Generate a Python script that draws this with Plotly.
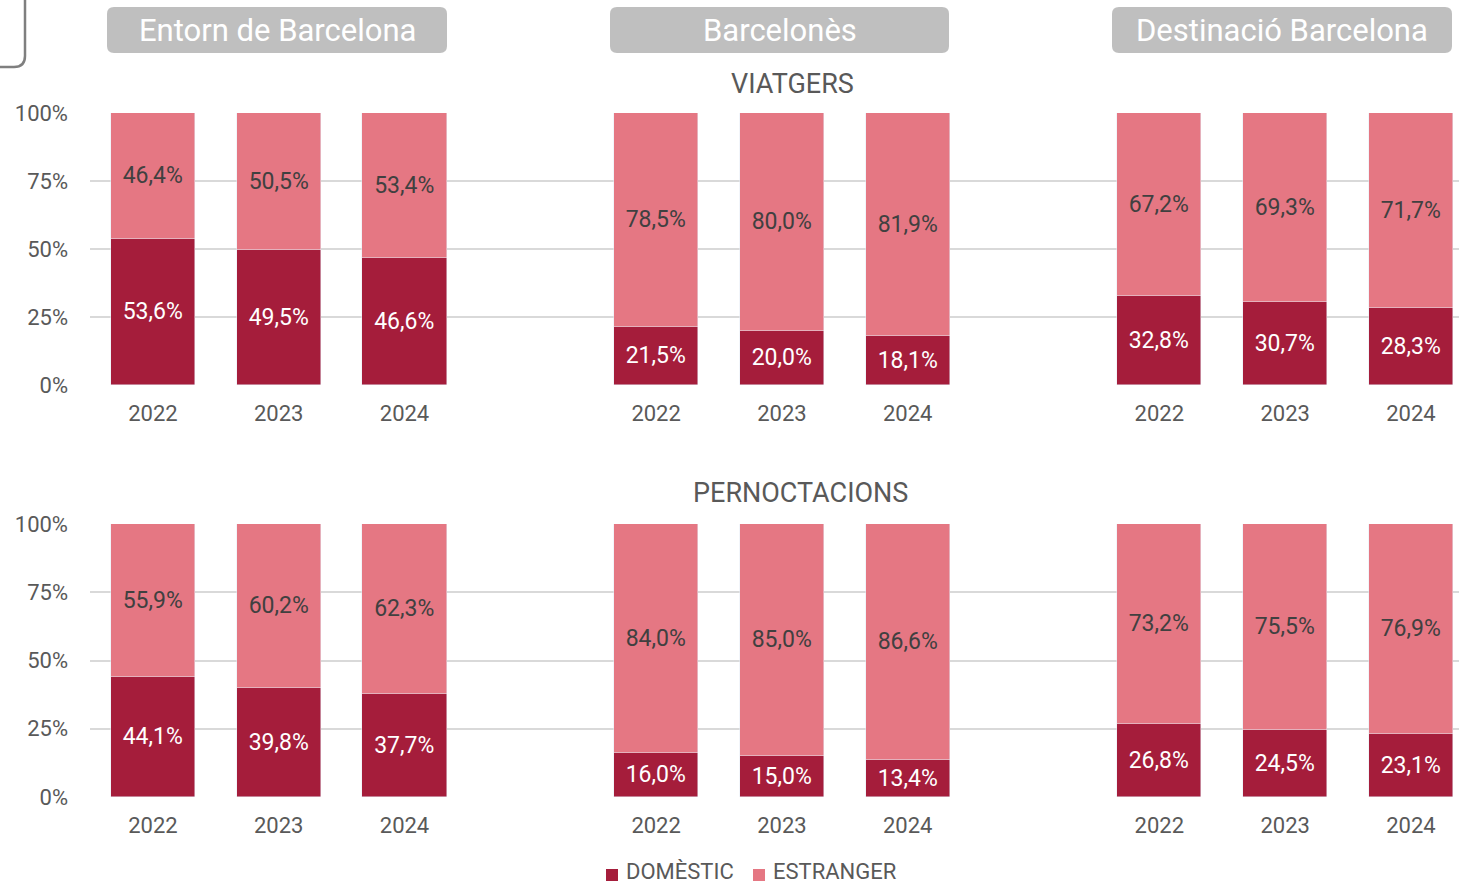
import plotly.graph_objects as go

# Values (%) per group: Entorn de Barcelona, Barcelonès, Destinació Barcelona
years = ["2022", "2023", "2024"]
groups = ["Entorn de Barcelona", "Barcelonès", "Destinació Barcelona"]
viatgers_domestic = [53.6, 49.5, 46.6, 21.5, 20.0, 18.1, 32.8, 30.7, 28.3]
viatgers_estranger = [46.4, 50.5, 53.4, 78.5, 80.0, 81.9, 67.2, 69.3, 71.7]
pernoct_domestic = [44.1, 39.8, 37.7, 16.0, 15.0, 13.4, 26.8, 24.5, 23.1]
pernoct_estranger = [55.9, 60.2, 62.3, 84.0, 85.0, 86.6, 73.2, 75.5, 76.9]
y_ticks = [0, 25, 50, 75, 100]
y_ticktext = ["0%", "25%", "50%", "75%", "100%"]

W, H = 1459, 884
ML = 90
DARK = "#A51D3B"
PINK = "#E57783"
GREY_TXT = "#595959"
FONT = "Roboto"

# bar slots: three per group with an empty slot between groups
xpos = [g * 4 + i for g in range(3) for i in range(3)]
xlabels = [years[i] for g in range(3) for i in range(3)]


def px_x(p):
    return (p - ML) / (W - ML)


def px_y(p):
    return 1 - p / H


def pct(v):
    return f"{v:.1f}".replace(".", ",") + "%"


fig = go.Figure()

for dom, est, ax in [(viatgers_domestic, viatgers_estranger, ""),
                     (pernoct_domestic, pernoct_estranger, "2")]:
    fig.add_trace(go.Bar(
        x=xpos, y=dom, name="DOMÈSTIC", marker_color=DARK,
        text=[pct(v) for v in dom], textposition="inside",
        insidetextanchor="middle", constraintext="none", textangle=0,
        textfont=dict(color="white", size=23, family=FONT),
        width=0.67, showlegend=False, hoverinfo="skip",
        xaxis="x" + ax, yaxis="y" + ax))
    fig.add_trace(go.Bar(
        x=xpos, y=est, name="ESTRANGER", marker_color=PINK,
        text=[pct(v) for v in est], textposition="inside",
        insidetextanchor="middle", constraintext="none", textangle=0,
        textfont=dict(color="#404040", size=23, family=FONT),
        width=0.67, showlegend=False, hoverinfo="skip",
        xaxis="x" + ax, yaxis="y" + ax))

xaxis_common = dict(
    range=[-0.5, 10.382], tickvals=xpos, ticktext=xlabels,
    showgrid=False, zeroline=False, showline=False, automargin=False,
    tickfont=dict(size=22, color=GREY_TXT, family=FONT),
    ticklabelstandoff=13, fixedrange=True)
yaxis_common = dict(
    range=[0, 100], tickvals=y_ticks, ticktext=y_ticktext,
    showgrid=True, gridcolor="#D9D9D9", gridwidth=1.5,
    zeroline=False, showline=False, automargin=False,
    tickfont=dict(size=22, color=GREY_TXT, family=FONT),
    ticklabelstandoff=21, fixedrange=True)

fig.update_layout(
    width=W, height=H,
    margin=dict(l=ML, r=0, t=0, b=0),
    paper_bgcolor="white", plot_bgcolor="white",
    barmode="stack", bargap=0,
    font=dict(family=FONT, color=GREY_TXT),
    xaxis=dict(domain=[0, 1], anchor="y", **xaxis_common),
    yaxis=dict(domain=[px_y(385), px_y(113)], anchor="x", **yaxis_common),
    xaxis2=dict(domain=[0, 1], anchor="y2", **xaxis_common),
    yaxis2=dict(domain=[px_y(797), px_y(524)], anchor="x2", **yaxis_common),
    showlegend=False,
)

shapes = []
annotations = []


def rounded_rect(x0, y0, x1, y1, r):
    return (f"M {px_x(x0 + r)},{px_y(y0)} L {px_x(x1 - r)},{px_y(y0)} "
            f"Q {px_x(x1)},{px_y(y0)} {px_x(x1)},{px_y(y0 + r)} "
            f"L {px_x(x1)},{px_y(y1 - r)} "
            f"Q {px_x(x1)},{px_y(y1)} {px_x(x1 - r)},{px_y(y1)} "
            f"L {px_x(x0 + r)},{px_y(y1)} "
            f"Q {px_x(x0)},{px_y(y1)} {px_x(x0)},{px_y(y1 - r)} "
            f"L {px_x(x0)},{px_y(y0 + r)} "
            f"Q {px_x(x0)},{px_y(y0)} {px_x(x0 + r)},{px_y(y0)} Z")


# group header boxes
header_boxes = [(107, 447), (610, 949), (1112, 1452)]
for name, (bx0, bx1) in zip(groups, header_boxes):
    shapes.append(dict(type="path", xref="paper", yref="paper",
                       path=rounded_rect(bx0, 7, bx1, 53, 7),
                       fillcolor="#BFBFBF", line=dict(width=0), layer="below"))
    annotations.append(dict(x=px_x((bx0 + bx1) / 2), y=px_y(31), xref="paper", yref="paper",
                            text=name, showarrow=False, xanchor="center", yanchor="middle",
                            font=dict(size=31, color="white", family=FONT)))

# corner of the frame at top left
shapes.append(dict(type="path", xref="paper", yref="paper",
                   path=(f"M {px_x(25)},{px_y(-5)} L {px_x(25)},{px_y(56)} "
                         f"Q {px_x(25)},{px_y(67)} {px_x(14)},{px_y(67)} L {px_x(-5)},{px_y(67)}"),
                   line=dict(color="#7F7F7F", width=2.5)))

# panel titles
annotations.append(dict(x=px_x(792), y=px_y(84), xref="paper", yref="paper", text="VIATGERS",
                        showarrow=False, xanchor="center", yanchor="middle",
                        font=dict(size=27, color=GREY_TXT, family=FONT)))
annotations.append(dict(x=px_x(800), y=px_y(493), xref="paper", yref="paper", text="PERNOCTACIONS",
                        showarrow=False, xanchor="center", yanchor="middle",
                        font=dict(size=27, color=GREY_TXT, family=FONT)))

# legend
for lx, color, label in [(606, DARK, "DOMÈSTIC"), (753, PINK, "ESTRANGER")]:
    shapes.append(dict(type="rect", xref="paper", yref="paper",
                       x0=px_x(lx), x1=px_x(lx + 12), y0=px_y(881), y1=px_y(869),
                       fillcolor=color, line=dict(width=0)))
    annotations.append(dict(x=px_x(lx + 18), y=px_y(871), xref="paper", yref="paper", text=label,
                            showarrow=False, xanchor="left", yanchor="middle",
                            font=dict(size=22, color=GREY_TXT, family=FONT)))

fig.update_layout(shapes=shapes, annotations=annotations)

fig.write_html("out.html", config={"displayModeBar": False})
